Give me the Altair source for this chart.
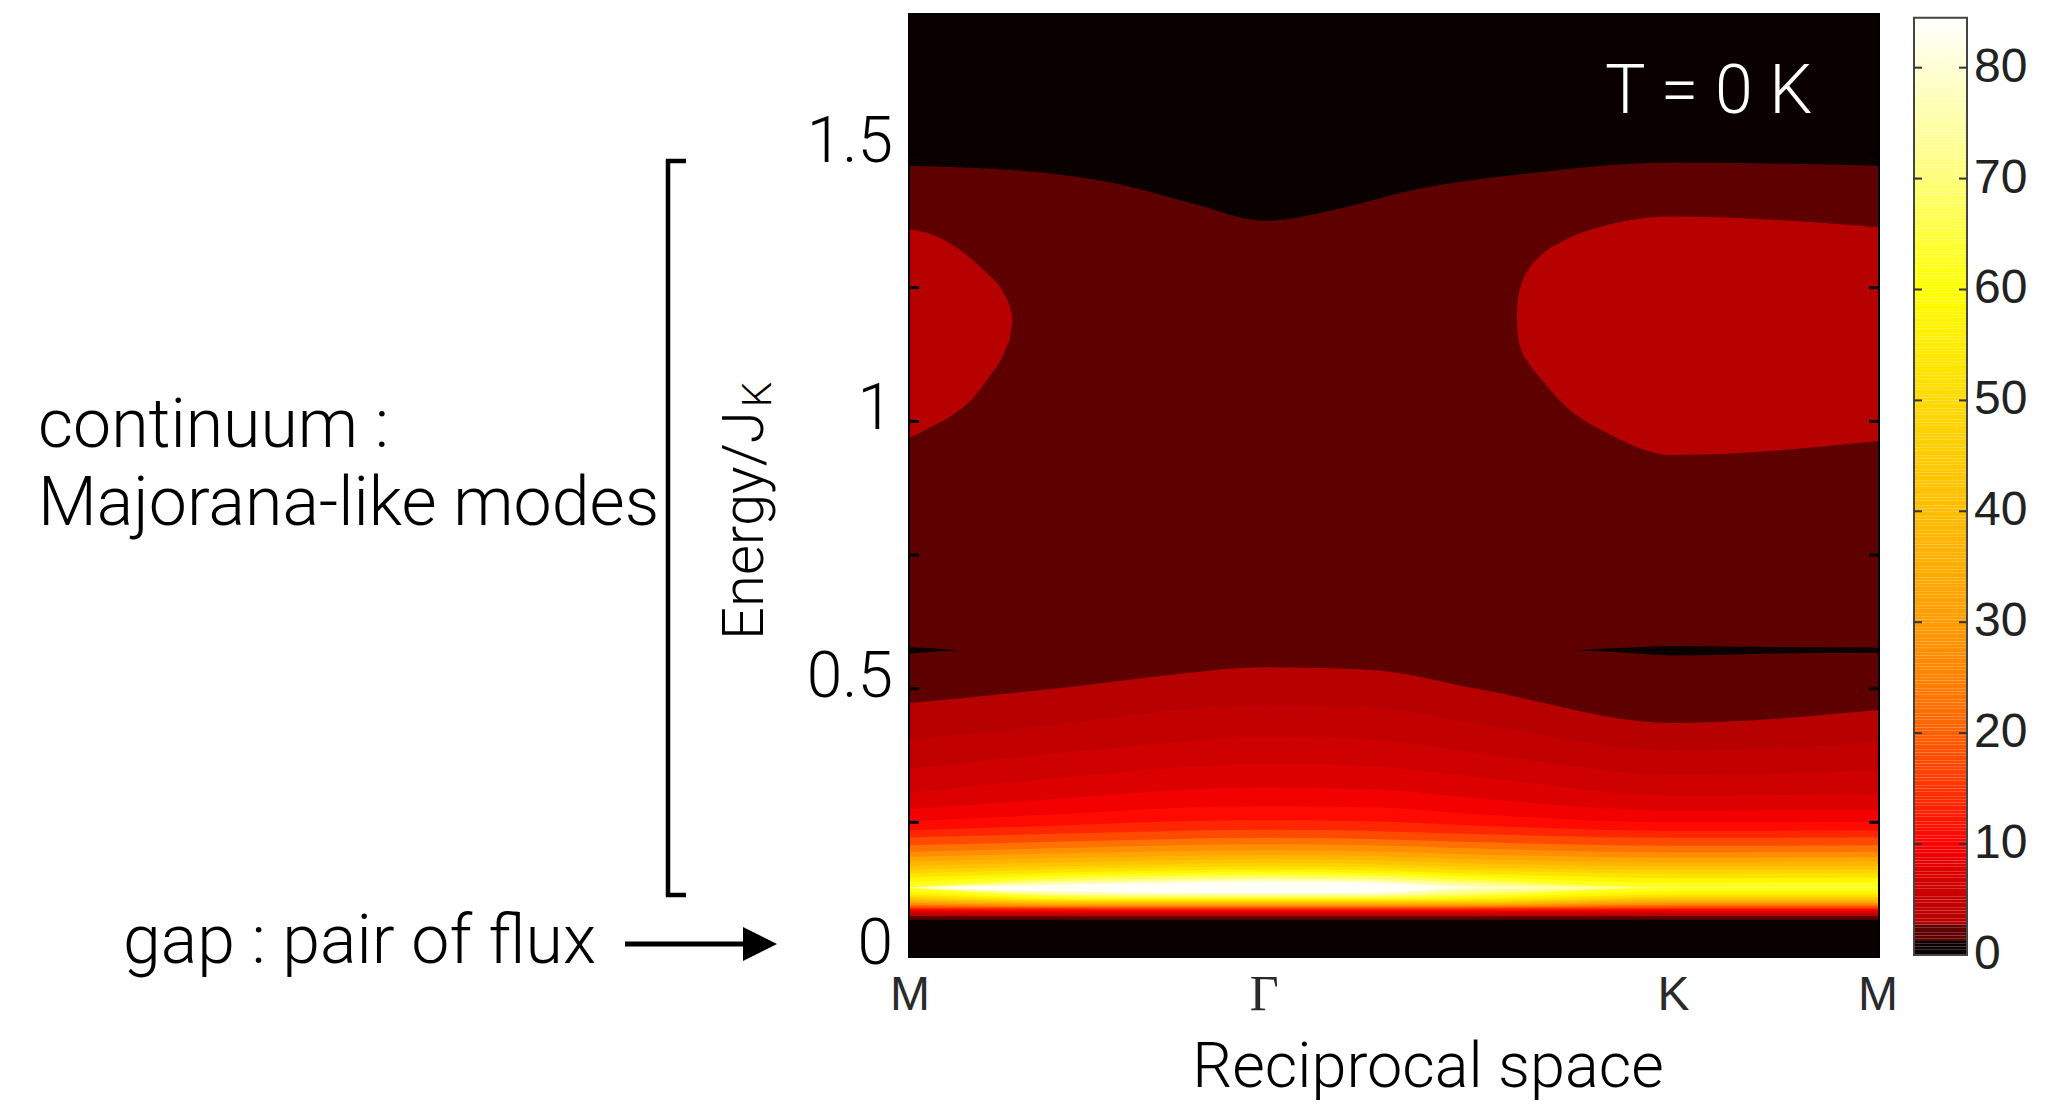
import altair as alt
import pandas as pd

# ---------------- data ----------------
XMAX = 2.732          # path length M-Γ-K-M (|MΓ|=1, |ΓK|=1.155, |KM|=0.577)
YMAX = 1.76           # top of energy axis
x_tick_pos = [0, 1.0, 2.155, 2.732]
x_tick_lab = ["M", "Γ", "K", "M"]
y_label_vals = [0, 0.5, 1, 1.5]
y_label_text = ["0", "0.5", "1", "1.5"]
y_minor_ticks = [0.25, 0.5, 0.75, 1.0, 1.25, 1.5]

# colour scale (hot-like colormap, discrete bottom levels)
cb_stops = [0, 1.349, 1.35, 2.699, 2.7, 5, 8, 10, 15, 20, 25, 30, 40, 50, 60, 70, 80, 84.5]
cb_colors = ["#0a0000", "#0a0000", "#5e0000", "#5e0000", "#b30000", "#c40000", "#e00000",
             "#ff0000", "#ff3300", "#ff6000", "#ff8200", "#ff9c00", "#ffbd00", "#ffd900",
             "#ffff00", "#ffff78", "#ffffd2", "#ffffff"]
cb_ticks = [0, 10, 20, 30, 40, 50, 60, 70, 80]

LEVEL_BLACK = 0.5
LEVEL_DARK = 2.0
LEVEL_LOBE = 3.3

# upper black region boundary
top_x = [0, 0.39, 0.6, 0.81, 1.0, 1.22, 1.43, 1.75, 2.155, 2.732]
top_E = [1.478, 1.464, 1.442, 1.405, 1.375, 1.399, 1.434, 1.464, 1.484, 1.478]

# bright lobe near left M
lobeL_x = [0, 0.06, 0.12, 0.18, 0.22, 0.25, 0.27, 0.283, 0.289]
lobeL_lo = [0.970, 0.990, 1.012, 1.045, 1.080, 1.108, 1.135, 1.160, 1.188]
lobeL_hi = [1.359, 1.350, 1.330, 1.300, 1.275, 1.255, 1.232, 1.212, 1.192]
# bright lobe near K
lobeR_x = [1.713, 1.716, 1.725, 1.745, 1.78, 1.849, 1.974, 2.152, 2.732]
lobeR_lo = [1.194, 1.160, 1.135, 1.110, 1.080, 1.029, 0.976, 0.937, 0.963]
lobeR_hi = [1.194, 1.228, 1.255, 1.283, 1.310, 1.339, 1.368, 1.383, 1.363]

# thin black line near 0.57
lineL_x = [0, 0.07, 0.138]
lineL_lo = [0.566, 0.569, 0.572]
lineL_hi = [0.578, 0.575, 0.572]
lineR_x = [1.877, 2.0, 2.152, 2.45, 2.732]
lineR_lo = [0.572, 0.568, 0.562, 0.566, 0.567]
lineR_hi = [0.572, 0.576, 0.580, 0.578, 0.577]

GAP_TOP = 0.068

# low-energy intensity band: contour levels and their edges at knots
levels = [2.7, 4, 5.5, 7, 8.5, 10, 12.5, 15, 20, 25, 30, 35, 40, 45, 50, 55, 60, 65, 70, 75, 80]
level_colour = [3.3, 4.7, 6.2, 7.7, 9.2, 11, 13.7, 17.5, 22.5, 27.5, 32.5, 37.5, 42.5, 47.5,
                52.5, 57.5, 62.5, 67.5, 72.5, 77.5, 84]
knot_x = [0, 0.5, 0.75, 1.0, 1.3, 1.6, 2.155, 2.732]

hi_M0 = [0.473, 0.405, 0.35, 0.305, 0.275, 0.252, 0.235, 0.222, 0.207, 0.195, 0.185, 0.177, 0.169, 0.162, 0.155, 0.147, 0.138, 0.129, 0.128, 0.128, 0.128]
lo_M0 = [0.075, 0.078, 0.080, 0.082, 0.084, 0.086, 0.088, 0.090, 0.093, 0.096, 0.099, 0.102, 0.105, 0.108, 0.111, 0.115, 0.121, 0.127, 0.128, 0.128, 0.128]
hi_05 = [0.507, 0.44, 0.385, 0.338, 0.298, 0.268, 0.246, 0.23, 0.215, 0.203, 0.193, 0.184, 0.176, 0.169, 0.163, 0.157, 0.152, 0.147, 0.142, 0.138, 0.134]
lo_05 = [0.074, 0.077, 0.079, 0.081, 0.083, 0.085, 0.087, 0.089, 0.091, 0.093, 0.095, 0.097, 0.099, 0.101, 0.103, 0.105, 0.107, 0.110, 0.113, 0.116, 0.120]
hi_075 = [0.527, 0.46, 0.40, 0.352, 0.31, 0.277, 0.252, 0.234, 0.219, 0.207, 0.196, 0.187, 0.179, 0.172, 0.166, 0.16, 0.155, 0.15, 0.145, 0.141, 0.137]
hi_G = [0.540, 0.47, 0.41, 0.36, 0.315, 0.28, 0.254, 0.236, 0.221, 0.209, 0.198, 0.189, 0.181, 0.174, 0.168, 0.162, 0.157, 0.152, 0.147, 0.143, 0.139]
lo_G = [0.074, 0.077, 0.079, 0.081, 0.083, 0.085, 0.087, 0.089, 0.091, 0.093, 0.095, 0.097, 0.099, 0.101, 0.103, 0.105, 0.107, 0.109, 0.112, 0.115, 0.118]
hi_13 = [0.535, 0.465, 0.405, 0.355, 0.312, 0.278, 0.252, 0.234, 0.219, 0.207, 0.196, 0.187, 0.179, 0.172, 0.166, 0.16, 0.155, 0.15, 0.145, 0.141, 0.137]
hi_16 = [0.50, 0.435, 0.38, 0.335, 0.295, 0.265, 0.244, 0.228, 0.213, 0.201, 0.19, 0.181, 0.173, 0.166, 0.16, 0.154, 0.148, 0.142, 0.137, 0.132, 0.129]
lo_16 = [0.074, 0.077, 0.079, 0.081, 0.083, 0.085, 0.087, 0.089, 0.091, 0.093, 0.095, 0.097, 0.099, 0.101, 0.103, 0.106, 0.109, 0.113, 0.118, 0.124, 0.128]
hi_K = [0.436, 0.385, 0.34, 0.30, 0.272, 0.25, 0.234, 0.221, 0.206, 0.194, 0.184, 0.176, 0.168, 0.161, 0.154, 0.146, 0.137, 0.129, 0.128, 0.128, 0.128]
lo_K = [0.075, 0.078, 0.08, 0.082, 0.084, 0.086, 0.088, 0.09, 0.093, 0.096, 0.099, 0.102, 0.105, 0.108, 0.111, 0.115, 0.121, 0.127, 0.128, 0.128, 0.128]
hi_M1 = [0.46, 0.40, 0.347, 0.303, 0.274, 0.251, 0.235, 0.222, 0.207, 0.195, 0.185, 0.177, 0.169, 0.162, 0.155, 0.147, 0.138, 0.129, 0.128, 0.128, 0.128]

hi_knots = [hi_M0, hi_05, hi_075, hi_G, hi_13, hi_16, hi_K, hi_M1]
lo_knots = [lo_M0, lo_05, lo_G, lo_G, lo_G, lo_16, lo_K, lo_K]

# ---------------- tables ----------------
rows = []
for k, lev in enumerate(levels):
    for j, xk in enumerate(knot_x):
        rows.append({"band": k, "level": level_colour[k], "x": xk,
                     "lo": lo_knots[j][k], "hi": hi_knots[j][k]})
df_bands = pd.DataFrame(rows)

df_bg = pd.DataFrame({"x0": [0], "x1": [XMAX], "y0": [0], "y1": [YMAX], "level": [LEVEL_DARK]})
df_gap = pd.DataFrame({"x0": [0], "x1": [XMAX], "y0": [0], "y1": [GAP_TOP], "level": [LEVEL_BLACK]})
df_top = pd.DataFrame({"x": top_x, "lo": top_E, "hi": [YMAX] * len(top_x), "level": LEVEL_BLACK, "part": "top"})

parts = []
for name, xs_, lo_, hi_, lev in [("lobeL", lobeL_x, lobeL_lo, lobeL_hi, LEVEL_LOBE),
                                ("lobeR", lobeR_x, lobeR_lo, lobeR_hi, LEVEL_LOBE),
                                ("lineL", lineL_x, lineL_lo, lineL_hi, LEVEL_BLACK),
                                ("lineR", lineR_x, lineR_lo, lineR_hi, LEVEL_BLACK)]:
    parts.append(pd.DataFrame({"x": xs_, "lo": lo_, "hi": hi_, "level": lev, "part": name}))
df_parts = pd.concat([df_top] + parts, ignore_index=True)

df_ticks = pd.DataFrame({"E": y_minor_ticks})
df_ylab = pd.DataFrame({"E": y_label_vals, "lab": y_label_text})
df_xlab = pd.DataFrame({"pos": x_tick_pos, "lab": x_tick_lab})
cb_lo = [i * 0.25 for i in range(338)]
df_cb = pd.DataFrame({"v0": cb_lo, "v1": [v + 0.25 for v in cb_lo], "level": [v + 0.125 for v in cb_lo]})
df_cbt = pd.DataFrame({"t": cb_ticks[1:]})
df_cbl = pd.DataFrame({"t": cb_ticks, "lab": [str(t) for t in cb_ticks]})

# ---------------- scales ----------------
xs = alt.Scale(domain=[0, XMAX], nice=False, zero=False)
ys = alt.Scale(domain=[0, YMAX], nice=False, zero=False)
cs = alt.Scale(domain=cb_stops, range=cb_colors, interpolate="rgb", clamp=True)
ys2 = alt.Scale(domain=[-0.1, 84.75], nice=False, zero=False)

LIGHT = "Roboto"
color_enc = alt.Color("level:Q", scale=cs, legend=None)
W, H = 968, 941

# ---------------- main heat map ----------------
bg = alt.Chart(df_bg).mark_rect().encode(
    x=alt.X("x0:Q", scale=xs, axis=None), x2="x1",
    y=alt.Y("y0:Q", scale=ys, axis=None), y2="y1", color=color_enc)

regions = alt.Chart(df_parts).mark_area(interpolate="monotone", opacity=1).encode(
    x=alt.X("x:Q", scale=xs, axis=None), y=alt.Y("lo:Q", scale=ys, axis=None), y2="hi",
    color=color_enc, detail="part:N")

gap = alt.Chart(df_gap).mark_rect().encode(
    x=alt.X("x0:Q", scale=xs, axis=None), x2="x1",
    y=alt.Y("y0:Q", scale=ys, axis=None), y2="y1", color=color_enc)

bands = alt.Chart(df_bands).mark_area(interpolate="monotone", opacity=1).encode(
    x=alt.X("x:Q", scale=xs, axis=None), y=alt.Y("lo:Q", scale=ys, axis=None), y2="hi",
    color=color_enc, detail="band:O")

tickL = alt.Chart(df_ticks).mark_rule(color="#000", strokeWidth=3).encode(
    y=alt.Y("E:Q", scale=ys, axis=None), x=alt.value(0), x2=alt.value(9))
tickR = alt.Chart(df_ticks).mark_rule(color="#000", strokeWidth=3).encode(
    y=alt.Y("E:Q", scale=ys, axis=None), x=alt.value(W - 9), x2=alt.value(W))

# axis labels as text through the scales
ylab = alt.Chart(df_ylab).mark_text(font=LIGHT, fontWeight=300, fontSize=64, color="#000",
                                    align="right", baseline="middle", dy=-11).encode(
    x=alt.value(-17), y=alt.Y("E:Q", scale=ys, axis=None), text="lab:N")
xlab_sans = alt.Chart(df_xlab).transform_filter("datum.lab != 'Γ'").mark_text(
    font="Liberation Sans", fontSize=48, color="#2a2a2a", align="center", baseline="alphabetic").encode(
    x=alt.X("pos:Q", scale=xs, axis=None), y=alt.value(995), text="lab:N")
xlab_serif = alt.Chart(df_xlab).transform_filter("datum.lab == 'Γ'").mark_text(
    font="Liberation Serif", fontSize=50, color="#2a2a2a", align="center", baseline="alphabetic").encode(
    x=alt.X("pos:Q", scale=xs, axis=None), y=alt.value(995), text="lab:N")
xtitle = alt.Chart(df_bg).mark_text(text="Reciprocal space", font=LIGHT, fontWeight=300,
                                    fontSize=63, color="#000", align="center",
                                    baseline="alphabetic").encode(x=alt.value(518), y=alt.value(1072))

t_label = alt.Chart(df_bg).mark_text(text="T = 0 K", font=LIGHT, fontWeight=300, fontSize=68,
                                     color="#ffffff", align="left", baseline="alphabetic").encode(
    x=alt.value(695), y=alt.value(98))

# ---------------- left annotations ----------------
ann_font = dict(font=LIGHT, fontWeight=300, fontSize=68, color="#000", baseline="alphabetic")
t_cont = alt.Chart(df_bg).mark_text(text="continuum :", align="left", **ann_font).encode(
    x=alt.value(-872), y=alt.value(432))
t_maj = alt.Chart(df_bg).mark_text(text="Majorana-like modes", align="left", **ann_font).encode(
    x=alt.value(-872), y=alt.value(510))
t_gap = alt.Chart(df_bg).mark_text(text="gap : pair of flux", align="right", **ann_font).encode(
    x=alt.value(-314), y=alt.value(948))
t_en = alt.Chart(df_bg).mark_text(text="Energy/J", angle=270, align="left", font=LIGHT,
                                  fontWeight=300, fontSize=58, color="#000",
                                  baseline="alphabetic").encode(x=alt.value(-147), y=alt.value(625))
t_k = alt.Chart(df_bg).mark_text(text="K", angle=270, align="left", font=LIGHT, fontWeight=300,
                                 fontSize=40, color="#000", baseline="alphabetic").encode(
    x=alt.value(-139), y=alt.value(392))

br_v = alt.Chart(df_bg).mark_rule(color="#000", strokeWidth=4.5).encode(
    x=alt.value(-242), y=alt.value(144), y2=alt.value(882))
br_t = alt.Chart(df_bg).mark_rule(color="#000", strokeWidth=4.5).encode(
    x=alt.value(-244), x2=alt.value(-224), y=alt.value(146))
br_b = alt.Chart(df_bg).mark_rule(color="#000", strokeWidth=4.5).encode(
    x=alt.value(-244), x2=alt.value(-224), y=alt.value(880))
arr_l = alt.Chart(df_bg).mark_rule(color="#000", strokeWidth=5).encode(
    x=alt.value(-285), x2=alt.value(-160), y=alt.value(929))
arr_h = alt.Chart(df_bg).mark_point(shape="M -1 -1 L 1 0 L -1 1 Z", filled=True, size=1156,
                                    color="#000", opacity=1).encode(
    x=alt.value(-150), y=alt.value(929))

main = alt.layer(bg, regions, gap, bands, tickL, tickR, ylab, xlab_sans, xlab_serif, xtitle,
                 t_label, t_cont, t_maj, t_gap, t_en, t_k, br_v, br_t, br_b, arr_l, arr_h)

# ---------------- colour bar ----------------
CB_L, CB_R = 1004, 1057
cb = alt.Chart(df_cb).mark_rect().encode(
    x=alt.value(CB_L), x2=alt.value(CB_R),
    y=alt.Y("v0:Q", scale=ys2, axis=None), y2="v1", color=color_enc)
cb_frame = alt.Chart(pd.DataFrame({"a": [0], "b": [84.5]})).mark_rect(
    fillOpacity=0, stroke="#444", strokeWidth=2).encode(
    x=alt.value(CB_L), x2=alt.value(CB_R), y=alt.Y("a:Q", scale=ys2, axis=None), y2="b")
cb_t1 = alt.Chart(df_cbt).mark_rule(color="#333", strokeWidth=2).encode(
    y=alt.Y("t:Q", scale=ys2, axis=None), x=alt.value(CB_L), x2=alt.value(CB_L + 8))
cb_t2 = alt.Chart(df_cbt).mark_rule(color="#333", strokeWidth=2).encode(
    y=alt.Y("t:Q", scale=ys2, axis=None), x=alt.value(CB_R - 8), x2=alt.value(CB_R))
cb_lab = alt.Chart(df_cbl).mark_text(font="Liberation Sans", fontSize=48, color="#222",
                                     align="left", baseline="middle").encode(
    x=alt.value(CB_R + 7), y=alt.Y("t:Q", scale=ys2, axis=None), text="lab:N")
cbar = alt.layer(cb, cb_frame, cb_t1, cb_t2, cb_lab)

chart = alt.layer(main, cbar).resolve_scale(y="independent").properties(
    width=W, height=H,
    padding={"left": 902, "top": 7, "right": 150, "bottom": 150},
    autosize=alt.AutoSizeParams(type="none"),
    background="white",
).configure_view(stroke="#000", strokeWidth=4)

chart.save("out.html", embed_options={"renderer": "svg", "actions": False})
